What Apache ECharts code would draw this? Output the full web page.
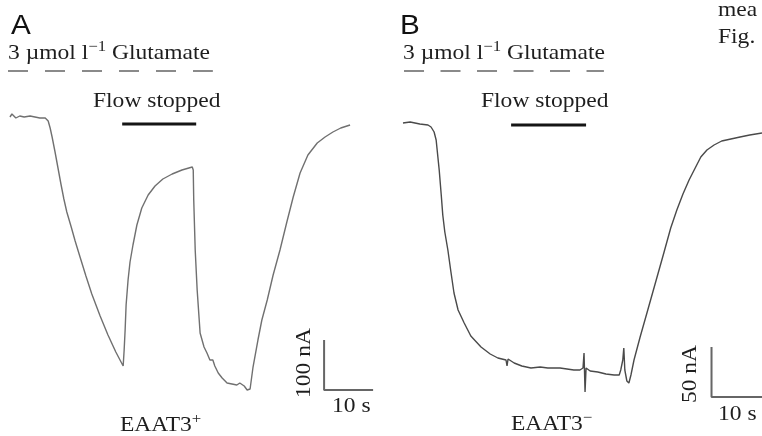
<!DOCTYPE html>
<html>
<head>
<meta charset="utf-8">
<script src="https://cdn.jsdelivr.net/npm/echarts@6/dist/echarts.min.js"></script>
<style>
  html, body { margin: 0; padding: 0; background: #fff; }
  #main { width: 762px; height: 436px; }
</style>
</head>
<body>
<div id="main"></div>
<script>
// Panel A (EAAT3+): time in s, current in nA
const timeA = [0.4, 0.8, 1.6, 2.4, 3.3, 4.5, 5.5, 6.5, 7.6, 8.2, 8.6, 9.0, 9.6, 10.2, 10.8, 11.4, 12.0, 12.9, 13.7, 14.7, 15.9,
  17.1, 18.8, 20.4, 22.0, 23.5,
  23.7, 23.9, 24.1, 24.5, 24.9, 25.5, 26.3, 27.3, 28.6, 30.0, 31.6, 33.5, 35.5, 37.6,
  37.8, 37.9, 38.2, 38.6, 39.2, 40.0, 40.6, 41.2, 41.6, 41.8,
  42.2, 42.9, 43.7, 44.7, 45.7, 46.7, 47.3, 48.2, 48.8, 49.4, 50.0, 51.0, 51.8, 52.9, 54.1, 55.5, 56.9, 58.2, 59.6, 61.2, 63.1,
  64.7, 66.3, 67.9, 69.8];
const currentA = [0, 6, -2, 2, 0, 2, 0, -2, -2, -8, -22, -40, -70, -102, -134, -164, -190, -220, -248, -280, -318,
  -354, -398, -436, -470, -498,
  -466, -426, -376, -326, -290, -256, -216, -182, -156, -138, -124, -114, -106, -100,
  -106, -166, -266, -346, -432, -460, -472, -486, -490, -486,
  -498, -512, -522, -532, -534, -536, -532, -538, -546, -544, -500, -446, -406, -366, -316, -266, -210, -160, -112, -76, -52,
  -40, -30, -22, -16];

// Panel B (EAAT3-)
const timeB = [0, 1.4, 3.3, 4.9, 5.5, 6.1, 6.5, 7.1, 7.5, 7.8, 8.2, 8.8, 9.4, 10.0, 10.8, 12.0, 13.3, 15.3, 17.1, 18.6, 20.2, 20.4,
  20.6, 21.8, 23.3, 25.1, 26.9, 28.4, 30.8, 33.5, 34.7, 35.3, 35.5, 35.7, 35.9, 36.7, 38.2, 39.8, 41.4, 42.4, 42.7, 43.1, 43.3,
  43.5, 43.9, 44.3, 44.7, 45.3, 46.5, 48.0, 49.6, 51.2, 52.5, 53.7, 54.9, 56.1, 57.3, 58.4, 59.6, 61.0, 62.5, 64.3, 66.1, 68.0, 70.4];
const currentB = [0, 1, -1, -2, -4, -9, -17, -47, -72, -92, -109, -127, -149, -170, -187, -200, -213, -224, -231, -235, -237, -243,
  -236, -240, -243, -245, -244, -245, -245, -247, -247, -245, -230, -269, -245, -248, -249, -251, -252, -252, -247, -237, -225,
  -247, -258, -260, -252, -237, -214, -187, -158, -129, -105, -87, -71, -57, -45, -34, -27, -22, -18, -16, -14, -12, -10];

// glutamate application and flow stop periods [start, end] in s
const glutamateA = [0, 41.8];
const flowStopA = [23.3, 38.4];
const glutamateB = [0.2, 39.4];
const flowStopB = [21.2, 35.9];

// scale bars: [time, current] corner, lengths 10 s and 100 / 50 nA
const scaleA = [64.5, -546, 10, 100];
const scaleB = [60.5, -274, 10, 50];

function zip(t, v) {
  return t.map((x, i) => [x, v[i]]);
}

const serif = 'Liberation Serif, Times New Roman, serif';
const ink = '#1e1e1e';

function serifText(x, y, text, rich, extra) {
  return Object.assign({
    type: 'text', x: x, y: y, scaleX: 1.12,
    style: { text: text, rich: rich, fill: ink, font: '21px ' + serif, verticalAlign: 'middle' }
  }, extra || {});
}

const supRich = {
  n: { fontFamily: serif, fontSize: 21, fill: ink, lineHeight: 24 },
  s: { fontFamily: serif, fontSize: 15, fill: ink, lineHeight: 24, padding: [0, 0, 11, 0] }
};

var chart = echarts.init(document.getElementById('main'), null, { renderer: 'canvas' });

var option = {
  animation: false,
  backgroundColor: '#ffffff',
  grid: [
    { left: 8, top: 47, width: 370, height: 370 },
    { left: 403, top: 43, width: 359, height: 380 }
  ],
  xAxis: [
    { gridIndex: 0, type: 'value', min: 0, max: 75.5, show: false },
    { gridIndex: 1, type: 'value', min: 0, max: 70.4, show: false }
  ],
  yAxis: [
    { gridIndex: 0, type: 'value', min: -600, max: 140, show: false },
    { gridIndex: 1, type: 'value', min: -300, max: 80, show: false }
  ],
  series: [
    {
      type: 'line', xAxisIndex: 0, yAxisIndex: 0, showSymbol: false, clip: false,
      data: zip(timeA, currentA),
      lineStyle: { color: '#707070', width: 1.4 }
    },
    {
      type: 'line', xAxisIndex: 1, yAxisIndex: 1, showSymbol: false, clip: false,
      data: zip(timeB, currentB),
      lineStyle: { color: '#4a4a4a', width: 1.4 }
    },
    {
      type: 'line', xAxisIndex: 0, yAxisIndex: 0, showSymbol: false, clip: false,
      data: [[glutamateA[0], 92], [glutamateA[1], 92]],
      lineStyle: { color: '#8a8a8a', width: 2, type: [20, 17] }
    },
    {
      type: 'line', xAxisIndex: 1, yAxisIndex: 1, showSymbol: false, clip: false,
      data: [[glutamateB[0], 52], [glutamateB[1], 52]],
      lineStyle: { color: '#8a8a8a', width: 2, type: [20, 16.5] }
    },
    {
      type: 'line', xAxisIndex: 0, yAxisIndex: 0, showSymbol: false, clip: false,
      data: [[flowStopA[0], -14], [flowStopA[1], -14]],
      lineStyle: { color: '#151515', width: 3 }
    },
    {
      type: 'line', xAxisIndex: 1, yAxisIndex: 1, showSymbol: false, clip: false,
      data: [[flowStopB[0], -2], [flowStopB[1], -2]],
      lineStyle: { color: '#151515', width: 3 }
    },
    {
      type: 'line', xAxisIndex: 0, yAxisIndex: 0, showSymbol: false, clip: false,
      data: [[scaleA[0], scaleA[1] + scaleA[3]], [scaleA[0], scaleA[1]], [scaleA[0] + scaleA[2], scaleA[1]]],
      lineStyle: { color: '#666666', width: 2 }
    },
    {
      type: 'line', xAxisIndex: 1, yAxisIndex: 1, showSymbol: false, clip: false,
      data: [[scaleB[0], scaleB[1] + scaleB[3]], [scaleB[0], scaleB[1]], [scaleB[0] + scaleB[2], scaleB[1]]],
      lineStyle: { color: '#666666', width: 2 }
    }
  ],
  graphic: [
    { type: 'text', x: 11, y: 27, scaleX: 1.1, style: { text: 'A', font: '27px Liberation Sans, Arial, sans-serif', fill: '#111', verticalAlign: 'middle' } },
    { type: 'text', x: 400, y: 27, scaleX: 1.1, style: { text: 'B', font: '27px Liberation Sans, Arial, sans-serif', fill: '#111', verticalAlign: 'middle' } },
    serifText(8, 53, '{n|3 \u00b5mol l}{s|\u22121}{n| Glutamate}', supRich),
    serifText(403, 53, '{n|3 \u00b5mol l}{s|\u22121}{n| Glutamate}', supRich),
    serifText(93, 101, 'Flow stopped'),
    serifText(481, 101, 'Flow stopped'),
    serifText(120, 425, '{n|EAAT3}{s|+}', supRich),
    serifText(511, 424, '{n|EAAT3}{s|\u2212}', supRich),
    serifText(332, 406, '10 s'),
    serifText(718, 414, '10 s'),
    serifText(304, 363, '100 nA', null, { rotation: Math.PI / 2, style: { text: '100 nA', fill: ink, font: '21px ' + serif, align: 'center', verticalAlign: 'middle' } }),
    serifText(690, 374, '50 nA', null, { rotation: Math.PI / 2, style: { text: '50 nA', fill: ink, font: '21px ' + serif, align: 'center', verticalAlign: 'middle' } }),
    serifText(718, 10, 'mea'),
    serifText(718, 37, 'Fig.')
  ]
};

chart.setOption(option);
</script>
</body>
</html>
